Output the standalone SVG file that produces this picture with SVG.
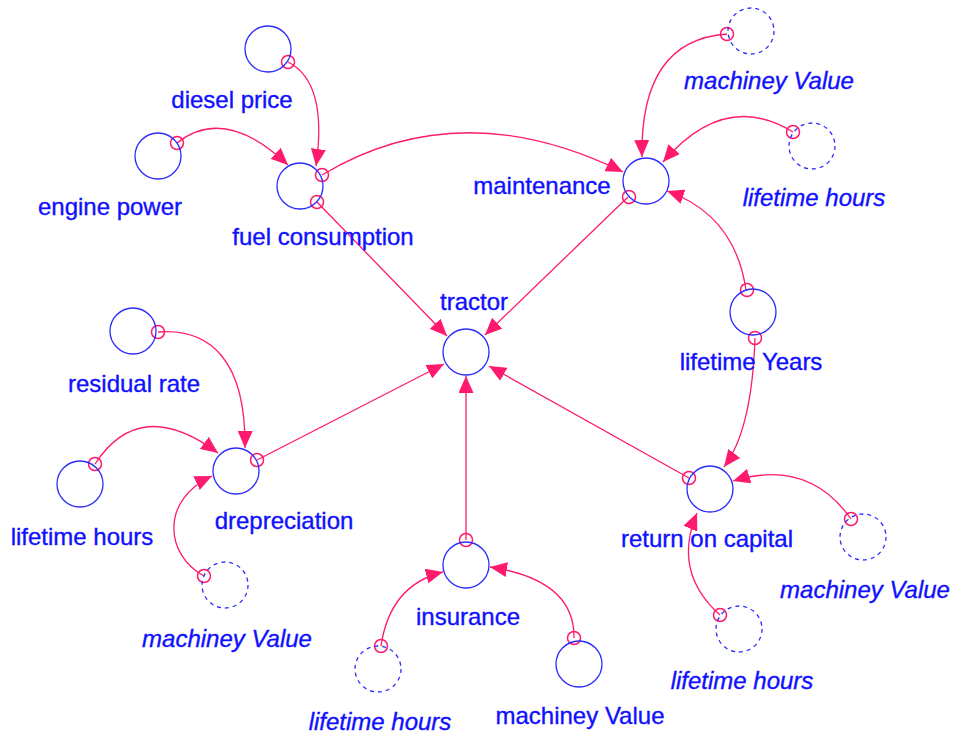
<svg xmlns="http://www.w3.org/2000/svg" width="958" height="740" viewBox="0 0 958 740">
<style>
.node{fill:none;stroke:#2b2bff;stroke-width:1.3}
.shadow{fill:none;stroke:#2b2bff;stroke-width:1.3;stroke-dasharray:4,4}
.lbl{font-family:"Liberation Sans",Arial,sans-serif;font-size:24px;fill:#1010ff;stroke:#1010ff;stroke-width:0.35;text-anchor:middle}
.it{font-style:italic}
.link{fill:none;stroke:#ff1a6e;stroke-width:1.3;marker-end:url(#arr)}
.tail{fill:none;stroke:#ff1a6e;stroke-width:1.5}
</style>
<defs>
<marker id="arr" viewBox="0 0 17 15" refX="17" refY="7.5" markerWidth="17" markerHeight="15" markerUnits="userSpaceOnUse" orient="auto">
<path d="M0,0 L17,7.5 L0,15 z" fill="#ff1a6e"/>
</marker>
</defs>
<rect width="958" height="740" fill="#ffffff"/>

<g id="connectors">
<path class="link" d="M288,62 Q328,82 316,166"/>
<path class="link" d="M177,143 Q225,105 288,165"/>
<path class="link" d="M322,175 Q460,92 623,172"/>
<path class="link" d="M317,202 L447,336"/>
<path class="link" d="M628,197 L485,335"/>
<path class="link" d="M727,34 Q640,40 642,157"/>
<path class="link" d="M793,132 Q725,90 663,162"/>
<path class="link" d="M746,290 Q735,215 667,191"/>
<path class="link" d="M755,338 Q752,430 724,467"/>
<path class="link" d="M689,478 L489,366"/>
<path class="link" d="M851,519 Q808,458 733,481"/>
<path class="link" d="M720,615 Q672,572 697,513"/>
<path class="link" d="M466,540 L466,376"/>
<path class="link" d="M381,646 Q390,585 443,572"/>
<path class="link" d="M574,638 Q575,580 490,567"/>
<path class="link" d="M257,460 L444,364"/>
<path class="link" d="M158,332 C210,328 246,360 245,448"/>
<path class="link" d="M95,464 Q140,395 218,453"/>
<path class="link" d="M204,576 C165,555 160,500 212,476"/>
<circle class="tail" cx="288" cy="62" r="6.5"/>
<circle class="tail" cx="177" cy="143" r="6.5"/>
<circle class="tail" cx="322" cy="175" r="6.5"/>
<circle class="tail" cx="317" cy="202" r="6.5"/>
<circle class="tail" cx="629" cy="197" r="6.5"/>
<circle class="tail" cx="727" cy="34" r="6.5"/>
<circle class="tail" cx="793" cy="132" r="6.5"/>
<circle class="tail" cx="747" cy="290" r="6.5"/>
<circle class="tail" cx="755" cy="338" r="6.5"/>
<circle class="tail" cx="689" cy="478" r="6.5"/>
<circle class="tail" cx="851" cy="519" r="6.5"/>
<circle class="tail" cx="720" cy="615" r="6.5"/>
<circle class="tail" cx="466" cy="540" r="6.5"/>
<circle class="tail" cx="381" cy="646" r="6.5"/>
<circle class="tail" cx="574" cy="638" r="6.5"/>
<circle class="tail" cx="257" cy="460" r="6.5"/>
<circle class="tail" cx="158" cy="332" r="6.5"/>
<circle class="tail" cx="95" cy="464" r="6.5"/>
<circle class="tail" cx="204" cy="576" r="6.5"/>
</g>

<g id="diesel_price"><circle class="node" cx="268" cy="49" r="23"/><text class="lbl" x="232" y="108">diesel price</text></g>
<g id="engine_power"><circle class="node" cx="158" cy="156" r="23"/><text class="lbl" x="110" y="215">engine power</text></g>
<g id="fuel_consumption"><circle class="node" cx="300" cy="186" r="23"/><text class="lbl" x="323" y="245">fuel consumption</text></g>
<g id="maintenance"><circle class="node" cx="646" cy="181" r="23"/><text class="lbl" x="542" y="194">maintenance</text></g>
<g id="machiney_value_top"><circle class="shadow" cx="751" cy="31" r="23"/><text class="lbl it" x="769" y="89">machiney Value</text></g>
<g id="lifetime_hours_top"><circle class="shadow" cx="812" cy="146" r="23"/><text class="lbl it" x="814" y="206">lifetime hours</text></g>
<g id="tractor"><circle class="node" cx="466" cy="352" r="23"/><text class="lbl" x="474" y="310">tractor</text></g>
<g id="residual_rate"><circle class="node" cx="133" cy="331" r="23"/><text class="lbl" x="134" y="392">residual rate</text></g>
<g id="lifetime_hours_left"><circle class="node" cx="80" cy="484" r="23"/><text class="lbl" x="82" y="545">lifetime hours</text></g>
<g id="drepreciation"><circle class="node" cx="236" cy="471" r="23"/><text class="lbl" x="284" y="529">drepreciation</text></g>
<g id="machiney_value_left"><circle class="shadow" cx="225" cy="585" r="23"/><text class="lbl it" x="227" y="647">machiney Value</text></g>
<g id="lifetime_years"><circle class="node" cx="753" cy="312" r="23"/><text class="lbl" x="751" y="370">lifetime Years</text></g>
<g id="return_on_capital"><circle class="node" cx="710" cy="489" r="23"/><text class="lbl" x="707" y="547">return on capital</text></g>
<g id="machiney_value_right"><circle class="shadow" cx="863" cy="537" r="23"/><text class="lbl it" x="865" y="598">machiney Value</text></g>
<g id="lifetime_hours_br"><circle class="shadow" cx="739" cy="629" r="23"/><text class="lbl it" x="742" y="689">lifetime hours</text></g>
<g id="insurance"><circle class="node" cx="466" cy="565" r="23"/><text class="lbl" x="468" y="625">insurance</text></g>
<g id="lifetime_hours_bottom"><circle class="shadow" cx="378" cy="669" r="23"/><text class="lbl it" x="380" y="730">lifetime hours</text></g>
<g id="machiney_value_bottom"><circle class="node" cx="579" cy="664" r="23"/><text class="lbl" x="580" y="724">machiney Value</text></g>
</svg>
